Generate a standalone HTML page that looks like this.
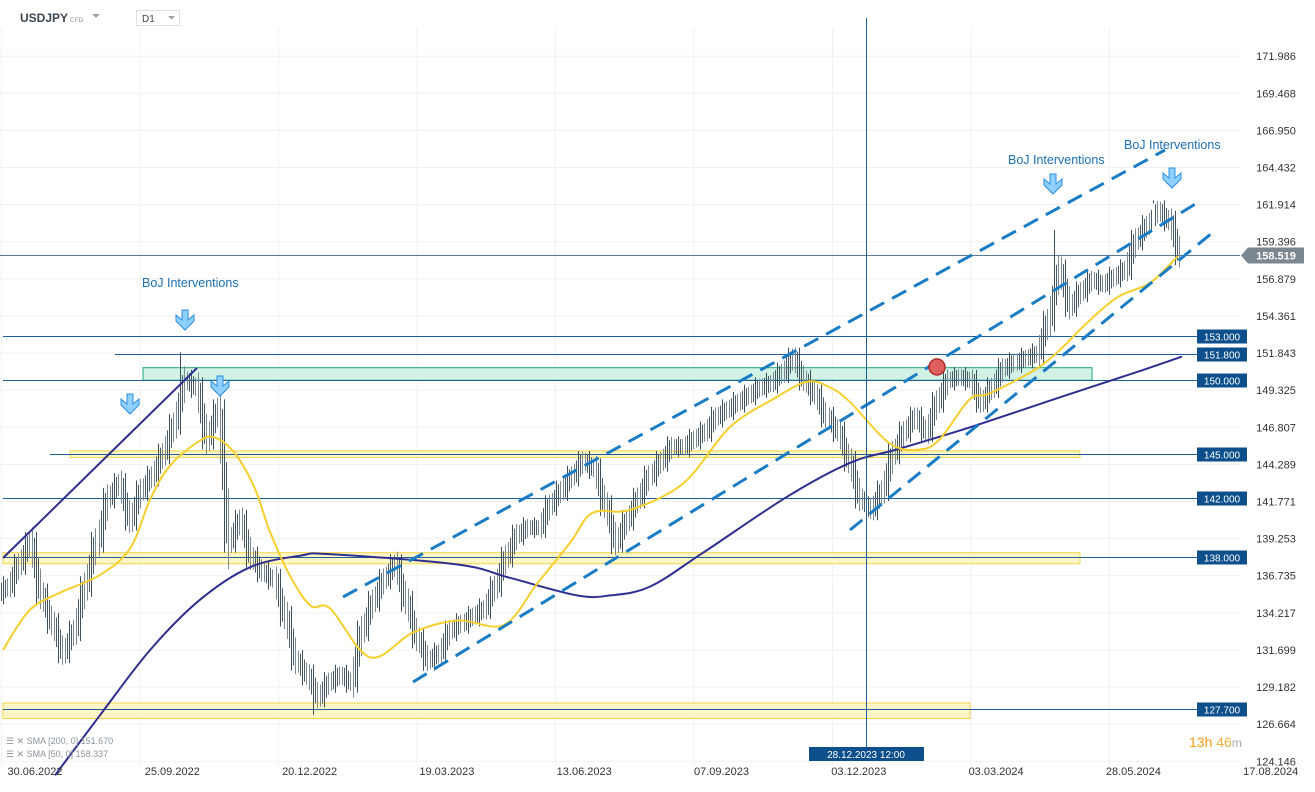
<!DOCTYPE html>
<html><head><meta charset="utf-8">
<style>
html,body{margin:0;padding:0;background:#fff;}
body{width:1315px;height:787px;overflow:hidden;font-family:"Liberation Sans",sans-serif;}
svg text{font-family:"Liberation Sans",sans-serif;}
</style></head>
<body>
<svg id="chart" width="1315" height="787" xmlns="http://www.w3.org/2000/svg">
  <g id="grid"></g>
  <g id="zones"></g>
  <g id="levels"></g>
  <g id="candles"></g>
  <g id="smas"></g>
  <g id="draw"></g>
  <g id="axes"></g>
  <g id="header">
    <text x="20" y="22" font-size="12" font-weight="bold" fill="#3b4650">USDJPY</text>
    <text x="70" y="22" font-size="6.5" fill="#8a949c">CFD</text>
    <path d="M92 14 L100 14 L96 18 Z" fill="#9aa2a8"/>
    <rect x="136.5" y="10.5" width="43" height="15" fill="#fff" stroke="#dde1e4"/>
    <text x="142" y="22" font-size="10" fill="#3b4650">D1</text>
    <path d="M168 16 L175 16 L171.5 19.5 Z" fill="#9aa2a8"/>
  </g>
  <g id="legend">
    <text x="6" y="744" font-size="9" fill="#8a949c">☰ ✕ SMA [200, 0] 151.670</text>
    <text x="6" y="757" font-size="9" fill="#8a949c">☰ ✕ SMA [50, 0] 158.337</text>
    <text x="1189" y="747" font-size="14" fill="#f39c12">13h <tspan fill="#f5b041">46</tspan><tspan fill="#aaa" font-size="12">m</tspan></text>
  </g>
</svg>
<script>
// ---- data ----
const closes = [136,137.5,139,135.5,133.5, 131.5,133,136,139,142, 143,140.5,142.5,143.5,145,
 147,150,149.5,146,148, 139,140.5,138,137,136.5, 134,131,130,128.5,129.5,
 130,129.5,133,135,136.5, 137.5,135,132.5,131,131.5, 133,133.5,134,134.5,136,
 138,139.5,140,140,141.5, 142.5,143.5,144.5,144,141.5, 139,140.5,142,143.5,144.5,
 145.5,145.5,146,146.5,147.5, 148,148.5,149,149.5,149.8, 150.5,151.5,150,149,147.5,
 146.5,144.5,142,141.2,142.5, 145,146.5,147.5,146.5,148.5, 150,150.2,150,148.5,149.5,
 150.8,151.2,151.5,151.8,154, 157.5,155,156,156.8,156.5, 157,157.5,159.5,160.5,161.5,
 160.8,158.5];
const spikeIdx = [16,95,28,55,78,104];
const spikeVal = [151.9,160.2,127.3,138.2,140.2,162];
const sma50Idx = [0,2.4,5.2,8.8,11.5,13.3,15.1,17.8,19.2,21,22.8,24.1,25.9,27.8,29.6,33.2,37.1,41.1,45.3,48.3,51.3,53.3,56.7,61.5,65.7,69.6,72.7,74.8,76.6,80.2,82.9,84.7,87.4,89.2,93.5,95.9,97.6,100.7,103.7,106.2];
const sma50Val = [131.7,134.4,135.6,136.8,138.6,141.9,144.2,145.9,146.1,145,142.6,139.8,136.8,134.7,134.5,131.2,132.9,133.7,133.4,136.2,139,141,141.2,143,146.8,148.7,149.9,149.5,148.5,145.7,145.3,146,148.7,149.1,150.8,152.3,153.6,155.6,156.6,158.4];
const sma200Idx = [4.7,8.8,13.3,17.8,22.3,26.9,29.6,41.1,45.8,51.9,54.9,58.5,63.3,70.9,76.6,80.8,87.4,95.8,103.1,106.6];
const sma200Val = [123.2,127.3,131.7,135.1,137.3,138.1,138.2,137.5,136.6,135.4,135.4,136,138.3,142.1,144.4,145.3,146.8,148.9,150.7,151.6];
const levelVals = [153,151.8,150,145,142,138,127.7];
const levelLabels = ["153.000","151.800","150.000","145.000","142.000","138.000","127.700"];
const tickVals = [171.986,169.468,166.950,164.432,161.914,159.396,156.879,154.361,151.843,149.325,146.807,144.289,141.771,139.253,136.735,134.217,131.699,129.182,126.664,124.146];
const dateLabels = ["30.06.2022","25.09.2022","20.12.2022","19.03.2023","13.06.2023","07.09.2023","03.12.2023","03.03.2024","28.05.2024","17.08.2024"];
const lastPrice = 158.519;

// ---- scales ----
const NS="http://www.w3.org/2000/svg";
function y(p){return 336-(p-153)*14.74;}
function x(i){return 3+i*11.06;}
function mk(parent,tag,attrs){const e=document.createElementNS(NS,tag);for(const k in attrs)e.setAttribute(k,attrs[k]);parent.appendChild(e);return e;}
const G=id=>document.getElementById(id);

// grid
const grid=G('grid');
tickVals.forEach(v=>{const l=mk(grid,'line',{x1:0,x2:1240,y1:y(v),y2:y(v),stroke:'#f0f1f2'});

});
for(let k=0;k<9;k++){const gx=1.5+138.5*k;const l=mk(grid,'line',{x1:gx,x2:gx,y1:28,y2:765,stroke:'#f0f1f2'});

}

// zones
const zones=G('zones');
function zone(x1,x2,p1,p2,fill,stroke,name){const r=mk(zones,'rect',{x:x1,y:y(p2),width:x2-x1,height:y(p1)-y(p2),fill:fill,stroke:stroke});

}
zone(143,1092,150,150.85,'#d2f2e6','#1fa57a','zone-150');
zone(70,1080,144.75,145.2,'#fff6c8','#f4d44d','zone-145');
zone(3,1080,137.55,138.3,'#fff6c8','#f4d44d','zone-138');
zone(3,970,127.05,128.1,'#fff6c8','#f4d44d','zone-127');

// levels
const levels=G('levels');
const levelStart=[3,115,3,50,3,3,3];
levelVals.forEach((v,i)=>{const yy=Math.round(y(v))+0.5;
const l=mk(levels,'line',{x1:levelStart[i],x2:1197,y1:yy,y2:yy,stroke:'#1d5f9a','stroke-width':1});


const r=mk(levels,'rect',{x:1197,y:yy-7,width:50,height:14,fill:'#0d4f8b'});


const t=mk(levels,'text',{x:1222,y:yy+4,'font-size':10,fill:'#fff','text-anchor':'middle'});t.textContent=levelLabels[i];

});
const ly=Math.round(y(lastPrice))+0.5;
const lpl=mk(levels,'line',{x1:0,x2:1240,y1:ly,y2:ly,stroke:'#5d7a94'});


const lpb=mk(levels,'path',{d:`M1241 ${ly} L1248 ${ly-8} L1304 ${ly-8} L1304 ${ly+8} L1248 ${ly+8} Z`,fill:'#7a8690'});


const lpt=mk(levels,'text',{x:1276,y:ly+4,'font-size':11,'font-weight':'bold',fill:'#fff','text-anchor':'middle'});lpt.textContent=lastPrice.toFixed(3);



// candles
const cg=G('candles');
closes.forEach((c,i)=>{const o=i?closes[i-1]:c-0.5;let hi=Math.max(o,c)+0.7,lo=Math.min(o,c)-0.7;
const si=spikeIdx.indexOf(i);if(si>=0){if(spikeVal[si]>hi)hi=spikeVal[si];else lo=spikeVal[si];}
const cx=Math.round(x(i))+0.5;
const w=mk(cg,'line',{x1:cx,x2:cx,y1:y(hi),y2:y(lo),stroke:'#3d4f5c'});


for(let k=-4;k<=4;k+=2){if(k===0)continue;const f=(k+5)/10;const v=o+(c-o)*f;const r=0.5+Math.abs(c-o)*0.25;
const l=mk(cg,'line',{x1:cx+k,x2:cx+k,y1:y(v+r),y2:y(v-r),stroke:k%4?'#4a5b67':'#7b8890'});

}});

// SMAs (smooth Catmull-Rom through the data points)
const sg=G('smas');
function pathOf(ix,vals){const P=ix.map((i,k)=>[x(i),y(vals[k])]);let d='M'+P[0][0].toFixed(1)+' '+P[0][1].toFixed(1);
for(let k=0;k<P.length-1;k++){const p0=P[k-1]||P[k],p1=P[k],p2=P[k+1],p3=P[k+2]||p2;
const c1=[p1[0]+(p2[0]-p0[0])/6,p1[1]+(p2[1]-p0[1])/6],c2=[p2[0]-(p3[0]-p1[0])/6,p2[1]-(p3[1]-p1[1])/6];
d+=` C${c1[0].toFixed(1)} ${c1[1].toFixed(1)} ${c2[0].toFixed(1)} ${c2[1].toFixed(1)} ${p2[0].toFixed(1)} ${p2[1].toFixed(1)}`;}
return d;}
const s200=mk(sg,'path',{d:pathOf(sma200Idx,sma200Val),fill:'none',stroke:'#2e2f8f','stroke-width':2,'stroke-linejoin':'round'});


const s50=mk(sg,'path',{d:pathOf(sma50Idx,sma50Val),fill:'none',stroke:'#f7cf2d','stroke-width':2,'stroke-linejoin':'round'});



// drawings
const dg=G('draw');
[[343,597,1165,150],[413,682,1197,203],[850,530,1212,233]].forEach(a=>{const l=mk(dg,'line',{x1:a[0],y1:a[1],x2:a[2],y2:a[3],stroke:'#1a7cc4','stroke-width':3,'stroke-dasharray':'16 9'});

});
const tl=mk(dg,'line',{x1:3,y1:558,x2:197,y2:368,stroke:'#2e2f8f','stroke-width':2});


const vl=mk(dg,'line',{x1:866.5,y1:18,x2:866.5,y2:760,stroke:'#1d5f9a'});


const rc=mk(dg,'circle',{cx:937,cy:367,r:8,fill:'#e06060',stroke:'#b02a2a','stroke-width':1.5});


[[185,324],[130,408],[220,390],[1053,188],[1172,182]].forEach(p=>{const a=mk(dg,'path',{d:`M${p[0]-3} ${p[1]-14} L${p[0]+3} ${p[1]-14} L${p[0]+3} ${p[1]-4} L${p[0]+9} ${p[1]-9} L${p[0]+9} ${p[1]-3} L${p[0]} ${p[1]+6} L${p[0]-9} ${p[1]-3} L${p[0]-9} ${p[1]-9} L${p[0]-3} ${p[1]-4} Z`,fill:'#8fd0ff',stroke:'#2b8fe0','stroke-width':1});

});
[[142,287],[1008,164],[1124,149]].forEach(p=>{const t=mk(dg,'text',{x:p[0],y:p[1],'font-size':12.5,fill:'#1d6fb3'});t.textContent='BoJ Interventions';

});

// axes
const ax=G('axes');
tickVals.forEach(v=>{const t=mk(ax,'text',{x:1276,y:y(v)+4,'font-size':11,fill:'#333','text-anchor':'middle'});t.textContent=v.toFixed(3);

});
dateLabels.forEach((d,i)=>{const t=mk(ax,'text',{x:35+137.3*i,y:775,'font-size':11,fill:'#333','text-anchor':'middle'});t.textContent=d;

});
const db=mk(ax,'rect',{x:809,y:747,width:115,height:14,fill:'#0d4f8b'});


const dt=mk(ax,'text',{x:866,y:758,'font-size':10,fill:'#fff','text-anchor':'middle'});dt.textContent='28.12.2023 12:00';


</script>
</body></html>
